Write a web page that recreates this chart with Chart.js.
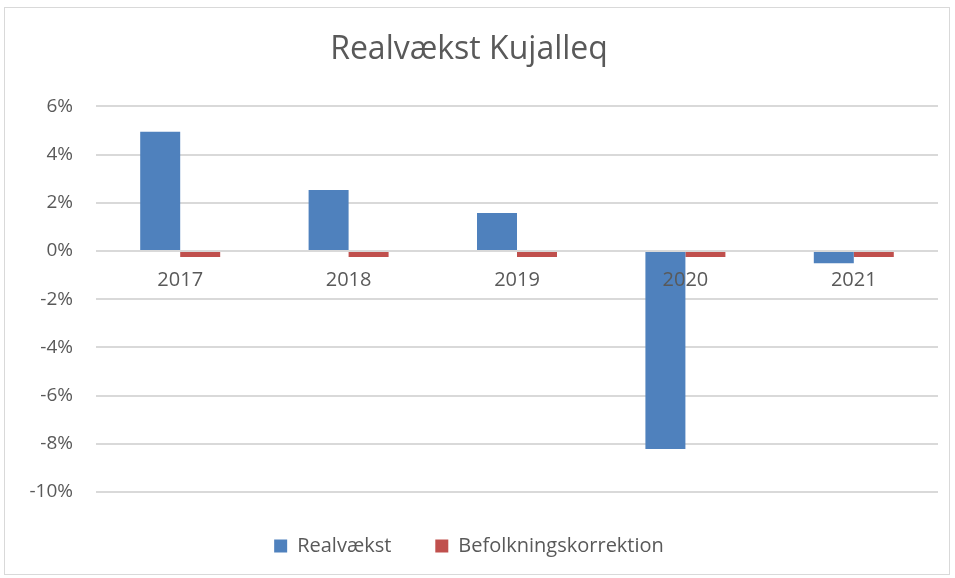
<!DOCTYPE html>
<html>
<head>
<meta charset="utf-8">
<script src="https://cdn.jsdelivr.net/npm/chart.js@4"></script>
<style>
  html, body { margin: 0; padding: 0; background: #fff; }
  canvas { position: absolute; left: 0; top: 0; display: block; }
  #frame { position: absolute; left: 4px; top: 7px; width: 946px; height: 568px; border: 1px solid #d9d9d9; box-sizing: border-box; pointer-events: none; }
</style>
</head>
<body>
<canvas id="chart" width="955" height="578"></canvas>
<div id="frame"></div>
<script>
// data
const years = ['2017', '2018', '2019', '2020', '2021'];
const realvaekst = [4.95, 2.53, 1.58, -8.22, -0.51];
const befolkningskorrektion = [-0.25, -0.25, -0.25, -0.25, -0.25];

const textColor = '#595959';
const gridColor = '#d9d9d9';

const ctx = document.getElementById('chart').getContext('2d');
const chart = new Chart(ctx, {
    type: 'bar',
    data: {
        labels: years,
        datasets: [{
            label: 'Realvækst',
            data: realvaekst,
            backgroundColor: '#4f81bd',
            borderWidth: 0
        }, {
            label: 'Befolkningskorrektion',
            data: befolkningskorrektion,
            backgroundColor: '#c0504d',
            borderWidth: 0
        }]
    },
    options: {
        responsive: false,
        animation: false,
        layout: { padding: { left: 0, right: 17, top: 0, bottom: 12 } },
        datasets: {
            bar: { categoryPercentage: 0.475, barPercentage: 1.0 }
        },
        plugins: {
            title: {
                display: true,
                text: 'Realvækst Kujalleq',
                color: textColor,
                font: { family: 'Open Sans', size: 32, weight: 'normal' },
                padding: { top: 31, bottom: 37 }
            },
            legend: {
                position: 'bottom',
                labels: {
                    color: textColor,
                    font: { family: 'Open Sans', size: 20 },
                    boxWidth: 13,
                    boxHeight: 13,
                    padding: 44
                }
            },
            tooltip: { enabled: false }
        },
        scales: {
            x: {
                position: { y: 0 },
                grid: { display: false },
                border: { display: false },
                ticks: {
                    z: 1, // labels over the bars, as in the reference (2020)
                    color: textColor,
                    font: { family: 'Open Sans', size: 20 },
                    padding: 9
                }
            },
            y: {
                min: -10,
                max: 6,
                afterFit: scale => { scale.width = 96; },
                ticks: {
                    stepSize: 2,
                    color: textColor,
                    font: { family: 'Open Sans', size: 19 },
                    padding: 23,
                    callback: v => v + '%'
                },
                grid: { color: gridColor, lineWidth: 2, drawTicks: false },
                border: { display: false }
            }
        }
    }
});
</script>
</body>
</html>
